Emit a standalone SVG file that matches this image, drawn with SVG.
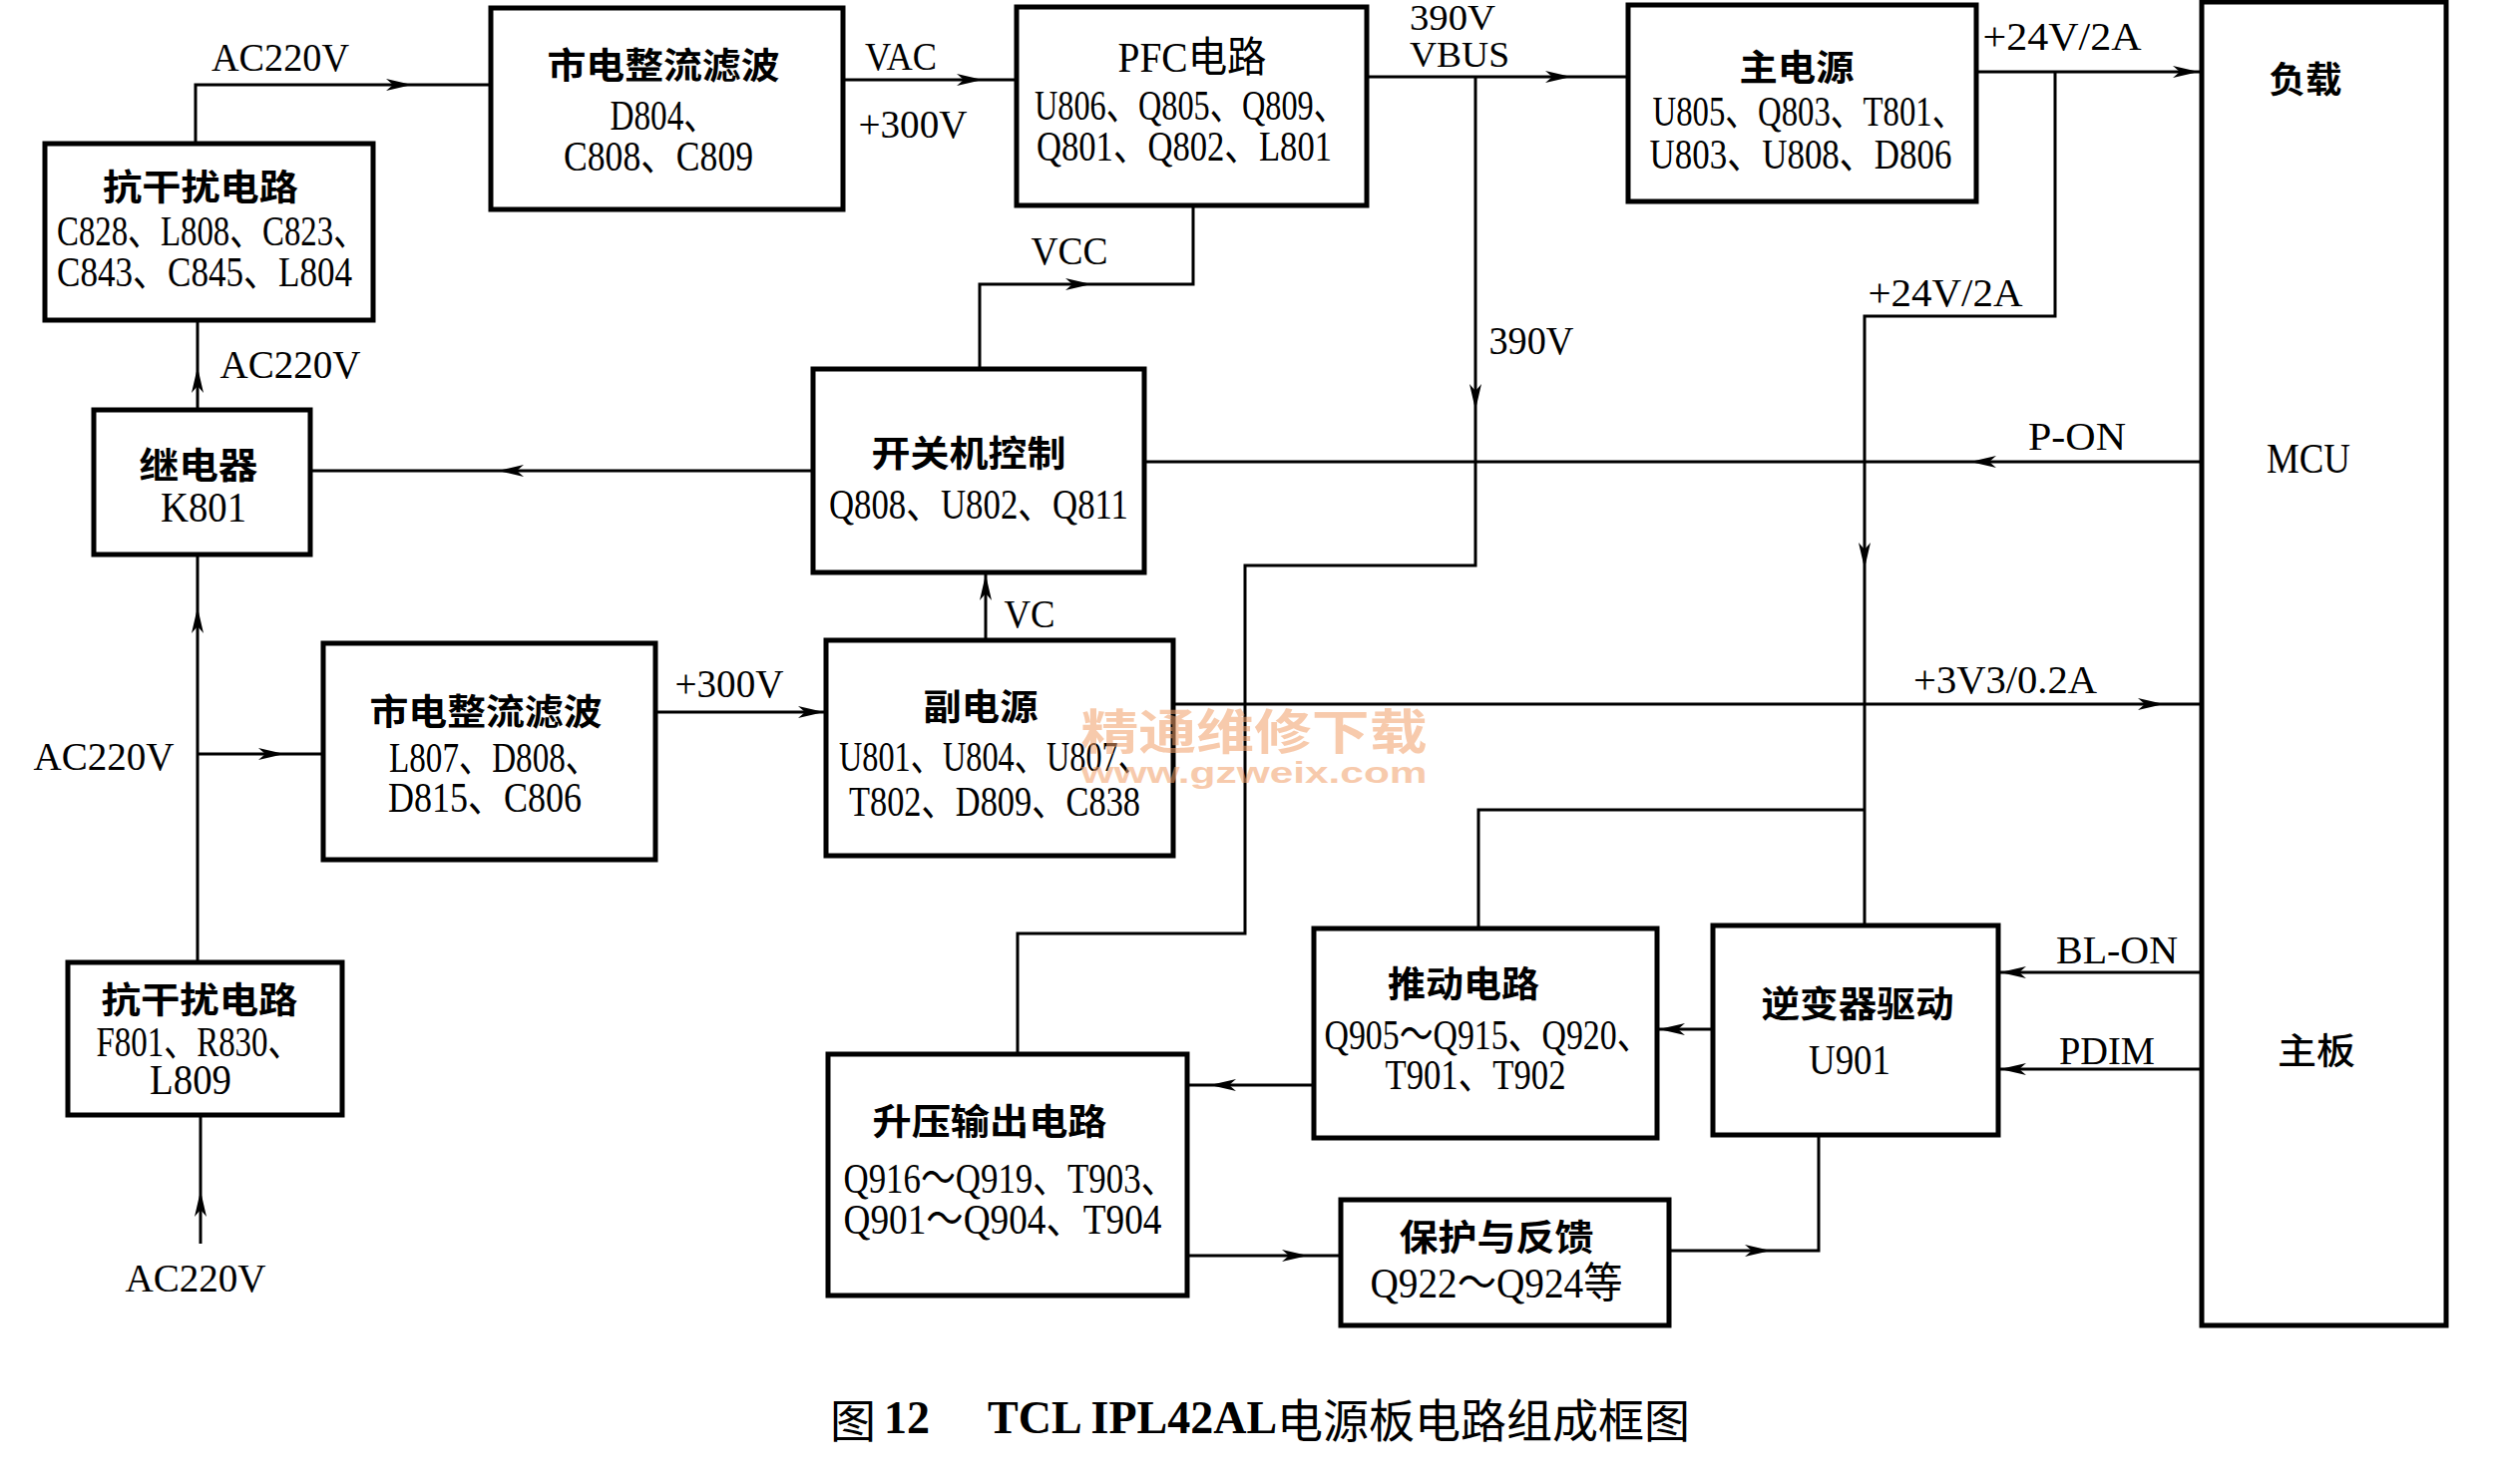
<svg xmlns="http://www.w3.org/2000/svg" xmlns:xlink="http://www.w3.org/1999/xlink" width="2515" height="1488" viewBox="0 0 2515 1488">
<style>
.box{fill:#fff;stroke:#000;stroke-width:5}
.ln{fill:none;stroke:#000;stroke-width:3}
.t{font-family:"Liberation Serif","Noto Sans CJK SC",serif;font-size:42px;fill:#000;text-anchor:middle;dominant-baseline:central}
.h{font-family:"Noto Sans CJK SC",sans-serif;font-weight:700;font-size:36px}
.lb{font-size:40px}
.wm{font-family:"Noto Sans CJK SC",sans-serif;font-weight:700;fill:#f2a06a;opacity:0.55;text-anchor:middle;dominant-baseline:central}
</style>
<defs>
<path id="ah" d="M0,0 L-26,-6 L-19,0 L-26,6 Z" fill="#000"/>
</defs>
<rect x="0" y="0" width="2515" height="1488" fill="#fff"/>

<g id="connectors">
<path class="ln" d="M196,321 V85 H492"/>
<path class="ln" d="M198,411 V321"/>
<path class="ln" d="M198,964 V556"/>
<path class="ln" d="M198,756 H324"/>
<path class="ln" d="M201,1247 V1118"/>
<path class="ln" d="M845,80 H1019"/>
<path class="ln" d="M1370,77 H1632"/>
<path class="ln" d="M1479,77 V567 H1248 V936 H1020 V1057"/>
<path class="ln" d="M982,370 V285 H1196 V206"/>
<path class="ln" d="M815,472 H311"/>
<path class="ln" d="M2207,463 H1147"/>
<path class="ln" d="M1981,72 H2207"/>
<path class="ln" d="M2060,72 V317 H1869 V928"/>
<path class="ln" d="M988,642 V574"/>
<path class="ln" d="M657,714 H828"/>
<path class="ln" d="M1176,706 H2207"/>
<path class="ln" d="M1482,931 V812 H1869"/>
<path class="ln" d="M1717,1032 H1661"/>
<path class="ln" d="M1317,1088 H1190"/>
<path class="ln" d="M1190,1259 H1344"/>
<path class="ln" d="M1673,1254 H1823 V1138"/>
<path class="ln" d="M2207,975 H2003"/>
<path class="ln" d="M2207,1072 H2003"/>
<use xlink:href="#ah" href="#ah" transform="translate(413,85)"/>
<use xlink:href="#ah" href="#ah" transform="translate(198,368) rotate(-90)"/>
<use xlink:href="#ah" href="#ah" transform="translate(198,609) rotate(-90)"/>
<use xlink:href="#ah" href="#ah" transform="translate(285,756)"/>
<use xlink:href="#ah" href="#ah" transform="translate(201,1194) rotate(-90)"/>
<use xlink:href="#ah" href="#ah" transform="translate(985,80)"/>
<use xlink:href="#ah" href="#ah" transform="translate(1575,77)"/>
<use xlink:href="#ah" href="#ah" transform="translate(1479,411) rotate(90)"/>
<use xlink:href="#ah" href="#ah" transform="translate(1094,285)"/>
<use xlink:href="#ah" href="#ah" transform="translate(499,472) rotate(180)"/>
<use xlink:href="#ah" href="#ah" transform="translate(1975,463) rotate(180)"/>
<use xlink:href="#ah" href="#ah" transform="translate(2204,72)"/>
<use xlink:href="#ah" href="#ah" transform="translate(1869,570) rotate(90)"/>
<use xlink:href="#ah" href="#ah" transform="translate(988,576) rotate(-90)"/>
<use xlink:href="#ah" href="#ah" transform="translate(826,714)"/>
<use xlink:href="#ah" href="#ah" transform="translate(2169,706)"/>
<use xlink:href="#ah" href="#ah" transform="translate(1663,1032) rotate(180)"/>
<use xlink:href="#ah" href="#ah" transform="translate(1213,1088) rotate(180)"/>
<use xlink:href="#ah" href="#ah" transform="translate(1311,1259)"/>
<use xlink:href="#ah" href="#ah" transform="translate(1775,1254)"/>
<use xlink:href="#ah" href="#ah" transform="translate(2005,975) rotate(180)"/>
<use xlink:href="#ah" href="#ah" transform="translate(2005,1072) rotate(180)"/>
</g>

<g id="labels">
<text class="t lb" x="281" y="57" textLength="138" lengthAdjust="spacingAndGlyphs">AC220V</text>
<text class="t lb" x="291" y="365" textLength="141" lengthAdjust="spacingAndGlyphs">AC220V</text>
<text class="t lb" x="104" y="758" textLength="141" lengthAdjust="spacingAndGlyphs">AC220V</text>
<text class="t lb" x="196" y="1281" textLength="141" lengthAdjust="spacingAndGlyphs">AC220V</text>
<text class="t lb" x="903" y="56" textLength="72" lengthAdjust="spacingAndGlyphs">VAC</text>
<text class="t lb" x="915" y="124" textLength="109" lengthAdjust="spacingAndGlyphs">+300V</text>
<text class="t lb" x="1456" y="18" textLength="86" lengthAdjust="spacingAndGlyphs" style="font-size:36px">390V</text>
<text class="t lb" x="1463" y="55" textLength="100" lengthAdjust="spacingAndGlyphs" style="font-size:36px">VBUS</text>
<text class="t lb" x="1535" y="341" textLength="85" lengthAdjust="spacingAndGlyphs">390V</text>
<text class="t lb" x="1072" y="251" textLength="77" lengthAdjust="spacingAndGlyphs">VCC</text>
<text class="t lb" x="2067" y="36" textLength="159" lengthAdjust="spacingAndGlyphs">+24V/2A</text>
<text class="t lb" x="1950" y="293" textLength="155" lengthAdjust="spacingAndGlyphs">+24V/2A</text>
<text class="t lb" x="2082" y="437" textLength="98" lengthAdjust="spacingAndGlyphs">P-ON</text>
<text class="t lb" x="1032" y="615" textLength="51" lengthAdjust="spacingAndGlyphs">VC</text>
<text class="t lb" x="731" y="685" textLength="109" lengthAdjust="spacingAndGlyphs">+300V</text>
<text class="t lb" x="2010" y="681" textLength="184" lengthAdjust="spacingAndGlyphs">+3V3/0.2A</text>
<text class="t lb" x="2122" y="952" textLength="122" lengthAdjust="spacingAndGlyphs">BL-ON</text>
<text class="t lb" x="2112" y="1053" textLength="96" lengthAdjust="spacingAndGlyphs">PDIM</text>
</g>

<g id="node-emi1">
<rect class="box" x="45" y="144" width="329" height="177"/>
<text class="t h" x="201" y="185" textLength="196" lengthAdjust="spacingAndGlyphs">抗干扰电路</text>
<text class="t" x="212" y="232" textLength="310" lengthAdjust="spacingAndGlyphs">C828、L808、C823、</text>
<text class="t" x="205" y="273" textLength="296" lengthAdjust="spacingAndGlyphs">C843、C845、L804</text>
</g>

<g id="node-rect1">
<rect class="box" x="492" y="8" width="353" height="202"/>
<text class="t h" x="665" y="63" textLength="233" lengthAdjust="spacingAndGlyphs">市电整流滤波</text>
<text class="t" x="665" y="116" textLength="107" lengthAdjust="spacingAndGlyphs">D804、</text>
<text class="t" x="660" y="157" textLength="190" lengthAdjust="spacingAndGlyphs">C808、C809</text>
</g>

<g id="node-pfc">
<rect class="box" x="1019" y="7" width="351" height="199"/>
<text class="t" x="1195" y="58" textLength="149" lengthAdjust="spacingAndGlyphs">PFC电路</text>
<text class="t" x="1193" y="106" textLength="312" lengthAdjust="spacingAndGlyphs">U806、Q805、Q809、</text>
<text class="t" x="1187" y="147" textLength="296" lengthAdjust="spacingAndGlyphs">Q801、Q802、L801</text>
</g>

<g id="node-main">
<rect class="box" x="1632" y="5" width="349" height="197"/>
<text class="t h" x="1801" y="65" textLength="115" lengthAdjust="spacingAndGlyphs">主电源</text>
<text class="t" x="1813" y="112" textLength="313" lengthAdjust="spacingAndGlyphs">U805、Q803、T801、</text>
<text class="t" x="1805" y="155" textLength="303" lengthAdjust="spacingAndGlyphs">U803、U808、D806</text>
</g>

<g id="node-onoff">
<rect class="box" x="815" y="370" width="332" height="204"/>
<text class="t h" x="971" y="452" textLength="195" lengthAdjust="spacingAndGlyphs">开关机控制</text>
<text class="t" x="981" y="506" textLength="300" lengthAdjust="spacingAndGlyphs">Q808、U802、Q811</text>
</g>

<g id="node-relay">
<rect class="box" x="94" y="411" width="217" height="145"/>
<text class="t h" x="199" y="464" textLength="119" lengthAdjust="spacingAndGlyphs">继电器</text>
<text class="t" x="204" y="509" textLength="86" lengthAdjust="spacingAndGlyphs">K801</text>
</g>

<g id="node-rect2">
<rect class="box" x="324" y="645" width="333" height="217"/>
<text class="t h" x="487" y="711" textLength="233" lengthAdjust="spacingAndGlyphs">市电整流滤波</text>
<text class="t" x="495" y="760" textLength="210" lengthAdjust="spacingAndGlyphs">L807、D808、</text>
<text class="t" x="486" y="800" textLength="194" lengthAdjust="spacingAndGlyphs">D815、C806</text>
</g>

<g id="node-aux">
<rect class="box" x="828" y="642" width="348" height="216"/>
<text class="t h" x="983" y="706" textLength="115" lengthAdjust="spacingAndGlyphs">副电源</text>
<text class="t" x="997" y="759" textLength="312" lengthAdjust="spacingAndGlyphs">U801、U804、U807、</text>
<text class="t" x="997" y="804" textLength="292" lengthAdjust="spacingAndGlyphs">T802、D809、C838</text>
</g>

<g id="node-emi2">
<rect class="box" x="68" y="965" width="275" height="153"/>
<text class="t h" x="200" y="1000" textLength="197" lengthAdjust="spacingAndGlyphs">抗干扰电路</text>
<text class="t" x="199" y="1045" textLength="205" lengthAdjust="spacingAndGlyphs">F801、R830、</text>
<text class="t" x="191" y="1083" textLength="82" lengthAdjust="spacingAndGlyphs">L809</text>
</g>

<g id="node-boost">
<rect class="box" x="830" y="1057" width="360" height="242"/>
<text class="t h" x="992" y="1122" textLength="235" lengthAdjust="spacingAndGlyphs">升压输出电路</text>
<text class="t" x="1012" y="1182" textLength="333" lengthAdjust="spacingAndGlyphs">Q916～Q919、T903、</text>
<text class="t" x="1005" y="1223" textLength="319" lengthAdjust="spacingAndGlyphs">Q901～Q904、T904</text>
</g>

<g id="node-drive">
<rect class="box" x="1317" y="931" width="344" height="210"/>
<text class="t h" x="1467" y="984" textLength="152" lengthAdjust="spacingAndGlyphs">推动电路</text>
<text class="t" x="1491" y="1038" textLength="327" lengthAdjust="spacingAndGlyphs">Q905～Q915、Q920、</text>
<text class="t" x="1479" y="1078" textLength="181" lengthAdjust="spacingAndGlyphs">T901、T902</text>
</g>

<g id="node-protect">
<rect class="box" x="1344" y="1203" width="329" height="126"/>
<text class="t h" x="1500" y="1238" textLength="195" lengthAdjust="spacingAndGlyphs">保护与反馈</text>
<text class="t" x="1500" y="1287" textLength="253" lengthAdjust="spacingAndGlyphs">Q922～Q924等</text>
</g>

<g id="node-inverter">
<rect class="box" x="1717" y="928" width="286" height="210"/>
<text class="t h" x="1862" y="1004" textLength="193" lengthAdjust="spacingAndGlyphs">逆变器驱动</text>
<text class="t" x="1854" y="1063" textLength="82" lengthAdjust="spacingAndGlyphs">U901</text>
</g>

<g id="node-mcu">
<rect class="box" x="2207" y="2" width="245" height="1327"/>
<text class="t h" x="2311" y="77" textLength="73" lengthAdjust="spacingAndGlyphs">负载</text>
<text class="t" x="2314" y="460" textLength="84" lengthAdjust="spacingAndGlyphs">MCU</text>
<text class="t h" x="2322" y="1051" textLength="78" lengthAdjust="spacingAndGlyphs" style="font-weight:500">主板</text>
</g>

<g id="watermark">
<text class="wm" x="1257" y="730" font-size="48" textLength="347" lengthAdjust="spacingAndGlyphs">精通维修下载</text>
<text class="wm" x="1257" y="774" font-size="30" textLength="347" lengthAdjust="spacingAndGlyphs" style="font-family:'Liberation Sans',sans-serif">www.gzweix.com</text>
</g>

<text class="t" y="1421" style="text-anchor:start;font-size:46px"><tspan x="832" style="font-family:'Noto Sans CJK SC',sans-serif">图</tspan><tspan x="886" font-weight="bold">12</tspan><tspan x="990" font-weight="bold">TCL IPL42AL</tspan><tspan x="1280" style="font-family:'Noto Sans CJK SC',sans-serif">电源板电路组成框图</tspan></text>
</svg>
